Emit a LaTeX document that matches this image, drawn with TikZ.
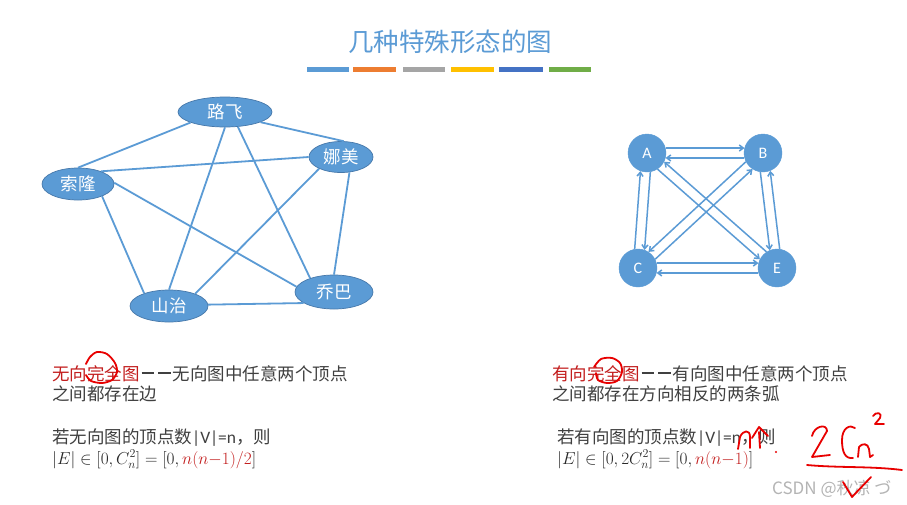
\documentclass[tikz,border=0pt]{standalone}
\usepackage{fontspec}
\setmainfont{Carlito}
\newfontfamily\cjk{Noto Sans CJK SC}
\usetikzlibrary{arrows.meta,shapes.geometric}
\definecolor{nodeblue}{RGB}{91,155,213}
\definecolor{nodeedge}{RGB}{70,120,170}
\definecolor{titleblue}{RGB}{91,155,213}
\definecolor{txtgray}{RGB}{64,64,64}
\definecolor{mathgray}{RGB}{40,40,40}
\definecolor{txtred}{RGB}{195,30,30}
\definecolor{penred}{RGB}{232,0,0}
\definecolor{barA}{RGB}{91,155,213}
\definecolor{barB}{RGB}{237,125,49}
\definecolor{barC}{RGB}{165,165,165}
\definecolor{barD}{RGB}{255,192,0}
\definecolor{barE}{RGB}{68,114,196}
\definecolor{barF}{RGB}{112,173,71}
\definecolor{wmgray}{RGB}{180,180,180}
\newcommand{\mydash}{\makebox[16.5pt]{\raisebox{6.3pt}{\rule{12.5pt}{1.3pt}}}}
\tikzset{
  pnode/.style={ellipse, fill=nodeblue, draw=nodeedge, line width=0.7pt, text=white,
    font=\cjk\fontsize{17.5}{17.5}\selectfont, inner sep=0pt},
  cnode/.style={circle, fill=nodeblue, draw=nodeblue, minimum size=38pt, inner sep=0pt,
    text=white, font=\fontsize{16}{16}\selectfont},
  uedge/.style={draw=nodeblue, line width=1.8pt},
  dedge/.style={draw=nodeblue, line width=1.5pt, -{Straight Barb[length=4pt,width=6pt]}},
  body/.style={anchor=base west, inner sep=0pt, text=txtgray, font=\cjk\fontsize{17.5}{20}\selectfont},
  mathline/.style={anchor=base west, inner sep=0pt, text=mathgray, font=\fontsize{16.5}{18}\selectfont},
  pen/.style={draw=penred, line width=1.8pt, line cap=round, line join=round}
}
\begin{document}
\begin{tikzpicture}[x=1pt, y=-1pt]
\fill[white] (0,0) rectangle (907,504);
\useasboundingbox (0,0) rectangle (907,504);

% title and colour bars
\node[font=\cjk\fontsize{25.5}{25.5}\selectfont, text=titleblue] (title) at (450,42) {几种特殊形态的图};
\fill[barA] (307,67) rectangle (349,72);
\fill[barB] (353,67) rectangle (396,72);
\fill[barC] (403,67) rectangle (445,72);
\fill[barD] (451,67) rectangle (494,72);
\fill[barE] (499,67) rectangle (543,72);
\fill[barF] (549,67) rectangle (591,72);

% undirected complete graph
\node[pnode, minimum width=94pt, minimum height=30pt] (lf) at (225,112) {路飞};
\node[pnode, minimum width=64pt, minimum height=31pt] (nm) at (341,157) {娜美};
\node[pnode, minimum width=72pt, minimum height=32pt] (sl) at (78,184) {索隆};
\node[pnode, minimum width=78pt, minimum height=32pt] (sz) at (169,306) {山治};
\node[pnode, minimum width=78pt, minimum height=34pt] (qb) at (334,292) {乔巴};

\draw[uedge] (lf.197) -- (sl.90);
\draw[uedge] (lf.344) -- (nm.80);
\draw[uedge] (lf.270) -- (sz.90);
\draw[uedge] (lf.311) -- (qb.150);
\draw[uedge] (nm.180) -- (sl.29);
\draw[uedge] (nm.208) -- (sz.25);
\draw[uedge] (nm.299) -- (qb.90);
\draw[uedge] (sl.333) -- (sz.153);
\draw[uedge] (sl.2) -- (qb.172);
\draw[uedge] (sz.2) -- (qb.200);

% directed complete graph
\node[cnode] (A) at (647,153) {A};
\node[cnode] (B) at (763,153) {B};
\node[cnode] (C) at (638,268) {C};
\node[cnode] (E) at (777,268) {E};

\draw[dedge] (A.15) -- (B.165);
\draw[dedge] (B.195) -- (A.-15);
\draw[dedge] (A.280.5) -- (C.70.5);
\draw[dedge] (C.100.5) -- (A.250.5);
\draw[dedge] (B.262) -- (E.112);
\draw[dedge] (E.82) -- (B.292);
\draw[dedge] (C.15) -- (E.165);
\draw[dedge] (E.195) -- (C.-15);
\draw[dedge] (A.303.5) -- (E.153.5);
\draw[dedge] (E.123.5) -- (A.333.5);
\draw[dedge] (B.207.6) -- (C.57.6);
\draw[dedge] (C.27.6) -- (B.237.6);

% left text block
\node[body] (l1) at (52,380) {\textcolor{txtred}{无向完全图}\mydash\mydash 无向图中任意两个顶点};
\node[body] (l2) at (52,400) {之间都存在边};
\node[body] (l3) at (52,443) {若无向图的顶点数{\fontspec{Carlito}|V|=n}，则};
\node[mathline] (l4) at (52,464) {$|E|\in[0,C_n^2]=[0,\textcolor{txtred}{n(n{-}1)/2}]$};

% right text block
\node[body] (r1) at (552,380) {\textcolor{txtred}{有向完全图}\mydash\mydash 有向图中任意两个顶点};
\node[body] (r2) at (552,400) {之间都存在方向相反的两条弧};
\node[body] (r3) at (557,443) {若有向图的顶点数{\fontspec{Carlito}|V|=n}，则};
\node[mathline] (r4) at (557,464) {$|E|\in[0,2C_n^2]=[0,\textcolor{txtred}{n(n{-}1)}]$};

% watermark
\node[anchor=base west, inner sep=0pt, text=wmgray, font=\cjk\fontsize{17}{17}\selectfont] (wm) at (772,494) {CSDN @秋凉 づ};

% handwritten red annotations
\draw[pen] plot[smooth] coordinates {(86,364) (90,357) (97,352) (107,354) (115,363) (117,372) (112,380) (102,383) (91,381) (86,375)};
\draw[pen] plot[smooth] coordinates {(594,367) (601,359) (612,358) (620,363) (622,372) (617,381) (607,383) (598,380) (596,373)};
% "n个"
\draw[pen] (738,449) -- (740,437) .. controls (743,430) and (750,429) .. (750,437) -- (750,448);
\draw[pen] (752,438) -- (759,427) -- (768,436);
\draw[pen] (759,432) -- (760,448);
\fill[penred] (776,452) circle (1.2pt);
% "2C_n^2"
\draw[pen] (812,436) .. controls (814,426) and (827,423) .. (827,431) -- (812,457) -- (830,455);
\draw[pen] (855,428) .. controls (850,424) and (842,428) .. (842,440) .. controls (842,452) and (845,459) .. (853,458);
\draw[pen] (858,457) -- (859,447) .. controls (862,443) and (868,443) .. (869,449) -- (870,457) -- (873,455);
\draw[pen] (873,416) .. controls (876,411) and (883,413) .. (880,418) -- (875,424) -- (884,424);
\draw[pen] (807,465) .. controls (840,468) and (870,466) .. (902,470);
\draw[pen] (843,482) -- (852,497) -- (871,477);
\end{tikzpicture}
\end{document}
